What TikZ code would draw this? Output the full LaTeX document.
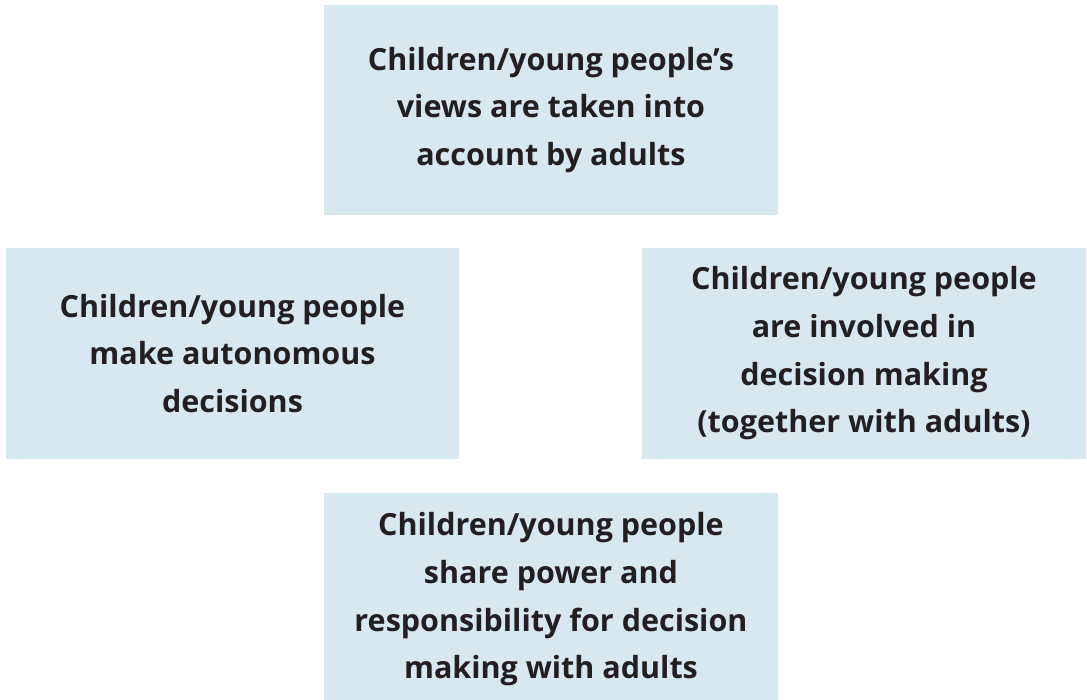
\documentclass[tikz,border=0pt]{standalone}
\usepackage{fontspec}
\setmainfont{Open Sans}[BoldFont={* Bold}]
\definecolor{boxfill}{HTML}{D7E8F1}
\definecolor{ink}{HTML}{231F20}
\begin{document}
\begin{tikzpicture}[x=1pt,y=1pt,
  panel/.style={fill=boxfill, draw=none, inner sep=0pt, align=center,
    text=ink, font=\bfseries\fontsize{30.5}{47.7}\selectfont},
  label/.style={inner sep=0pt, align=center,
    text=ink, font=\bfseries\fontsize{30.5}{47.7}\selectfont}]
\useasboundingbox (0,0) rectangle (1087,700);
\node[panel, minimum width=454pt, minimum height=210pt] (views) at (551,590)
  {Children/young people’s\\views are taken into\\account by adults};
\node[panel, minimum width=453pt, minimum height=211pt] (auto) at (232.5,346.5)
  {Children/young people\\make autonomous\\decisions};
\node[panel, minimum width=444pt, minimum height=211pt] (involved) at (864,346.5)
  {Children/young people\\are involved in\\decision making\\(together with adults)};
\node[panel, minimum width=454pt, minimum height=207pt] (share) at (551,103.5) {};
\node[label] (sharetext) at ([yshift=-3pt]share.center)
  {Children/young people\\share power and\\responsibility for decision\\making with adults};
\end{tikzpicture}
\end{document}
